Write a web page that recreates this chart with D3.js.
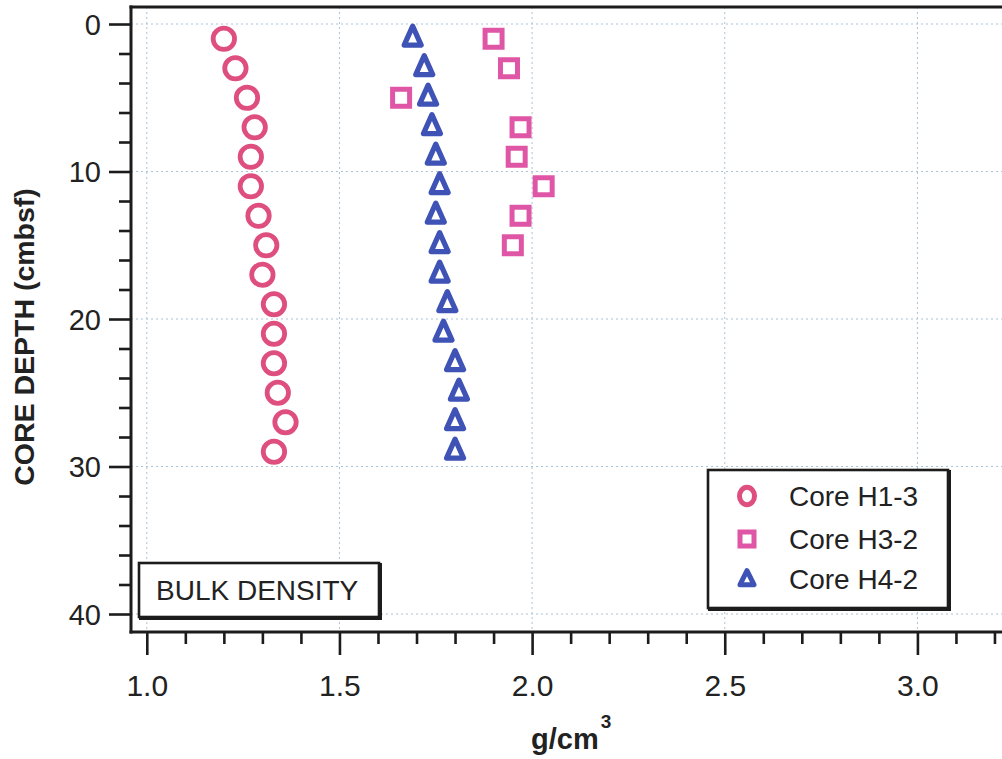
<!DOCTYPE html>
<html>
<head>
<meta charset="utf-8">
<script src="https://cdn.jsdelivr.net/npm/d3@7"></script>
<style>
  html, body { margin: 0; padding: 0; background: #ffffff; }
  svg { display: block; }
  text { font-family: "Liberation Sans", Arial, Helvetica, sans-serif; fill: #222; }
</style>
</head>
<body>
<svg id="chart" width="1002" height="759"></svg>
<script>
// ---- data ----
const depthsH13 = [1, 3, 5, 7, 9, 11, 13, 15, 17, 19, 21, 23, 25, 27, 29];
const densityH13 = [1.20, 1.23, 1.26, 1.28, 1.27, 1.27, 1.29, 1.31, 1.30, 1.33, 1.33, 1.33, 1.34, 1.36, 1.33];

const depthsH32 = [1, 3, 5, 7, 9, 11, 13, 15];
const densityH32 = [1.90, 1.94, 1.66, 1.97, 1.96, 2.03, 1.97, 1.95];

const depthsH42 = [1, 3, 5, 7, 9, 11, 13, 15, 17, 19, 21, 23, 25, 27, 29];
const densityH42 = [1.69, 1.72, 1.73, 1.74, 1.75, 1.76, 1.75, 1.76, 1.76, 1.78, 1.77, 1.80, 1.81, 1.80, 1.80];

const seriesNames = ["Core H1-3", "Core H3-2", "Core H4-2"];
const xMajorTicks = [1.0, 1.5, 2.0, 2.5, 3.0];
const xTickLabels = ["1.0", "1.5", "2.0", "2.5", "3.0"];
const yMajorTicks = [0, 10, 20, 30, 40];
const yTickLabels = ["0", "10", "20", "30", "40"];
const xTitle = "g/cm";
const xTitleSup = "3";
const yTitle = "CORE DEPTH (cmbsf)";
const boxLabel = "BULK DENSITY";

// ---- layout ----
(function () {
const svg = d3.select("#chart");
const pLeft = 131, pTop = 7, pBottom = 632, pRight = 1033;
const x = d3.scaleLinear().domain([0.959, 3.3]).range([pLeft, pRight]);
const y = d3.scaleLinear().domain([-1.153, 41.22]).range([pTop, pBottom]);

const colH13 = "#de4f80";
const colH32 = "#e056a6";
const colH42 = "#3f52b6";
const ink = "#1c1c1c";
const gridCol = "#a9c3d8";

svg.append("defs").append("clipPath").attr("id", "plotclip")
  .append("rect").attr("x", pLeft).attr("y", pTop).attr("width", 1002 - pLeft).attr("height", pBottom - pTop);

// ---- grid ----
const grid = svg.append("g").attr("clip-path", "url(#plotclip)");
grid.selectAll("line.vg").data(xMajorTicks).join("line")
  .attr("x1", d => x(d)).attr("x2", d => x(d))
  .attr("y1", pTop).attr("y2", pBottom)
  .attr("stroke", gridCol).attr("stroke-width", 1).attr("stroke-dasharray", "2,3");
grid.selectAll("line.hg").data(yMajorTicks).join("line")
  .attr("x1", pLeft).attr("x2", 1002)
  .attr("y1", d => y(d)).attr("y2", d => y(d))
  .attr("stroke", gridCol).attr("stroke-width", 1).attr("stroke-dasharray", "2,3");

// ---- axes ----
const yMinor = d3.range(0, 41, 2).filter(v => v % 10 !== 0);
const xMinor = d3.range(10, 33, 1).map(v => v / 10).filter(v => Math.round(v * 10) % 5 !== 0);

function styleAxis(size) {
  return function (g) {
    g.select(".domain").remove();
    g.selectAll(".tick line").attr("stroke", ink).attr("stroke-width", 2.6);
    g.selectAll(".tick text").attr("fill", "#2a2a2a").style("font-size", size + "px")
      .style("font-family", "'Liberation Sans', Arial, sans-serif");
  };
}

svg.append("g").attr("transform", `translate(${pLeft},0)`)
  .call(d3.axisLeft(y).tickValues(yMinor).tickSize(12).tickFormat(""))
  .call(styleAxis(29));
svg.append("g").attr("transform", `translate(${pLeft},0)`)
  .call(d3.axisLeft(y).tickValues(yMajorTicks).tickSize(22).tickPadding(8)
        .tickFormat((d, i) => yTickLabels[i]))
  .call(styleAxis(29))
  .call(g => g.selectAll(".tick text").attr("dy", "0.36em"));

svg.append("g").attr("transform", `translate(0,${pBottom})`)
  .call(d3.axisBottom(x).tickValues(xMinor).tickSize(12).tickFormat(""))
  .call(styleAxis(30));
svg.append("g").attr("transform", `translate(0,${pBottom})`)
  .call(d3.axisBottom(x).tickValues(xMajorTicks).tickSize(23).tickPadding(20)
        .tickFormat((d, i) => xTickLabels[i]))
  .call(styleAxis(30));

// frame lines
svg.append("line").attr("x1", pLeft).attr("x2", pLeft).attr("y1", pTop - 1.5).attr("y2", pBottom + 1.5)
  .attr("stroke", ink).attr("stroke-width", 3);
svg.append("line").attr("x1", pLeft - 1.5).attr("x2", 1002).attr("y1", pBottom).attr("y2", pBottom)
  .attr("stroke", ink).attr("stroke-width", 3);
svg.append("line").attr("x1", pLeft - 1.5).attr("x2", 1002).attr("y1", pTop).attr("y2", pTop)
  .attr("stroke", ink).attr("stroke-width", 3);

// ---- titles ----
svg.append("text")
  .attr("transform", `translate(34,337) rotate(-90)`)
  .attr("text-anchor", "middle")
  .style("font-size", "28.5px").style("font-weight", "bold")
  .text(yTitle);

const xt = svg.append("text")
  .attr("x", 531).attr("y", 749)
  .attr("text-anchor", "start")
  .style("font-size", "29px").style("font-weight", "bold");
xt.append("tspan").text(xTitle);
xt.append("tspan").attr("dx", 2).attr("dy", -21).style("font-size", "19px").text(xTitleSup);

// ---- markers ----
const plot = svg.append("g").attr("clip-path", "url(#plotclip)");
const triPath = (w, h) => `M0,${-2 * h / 3}L${w},${h / 3}L${-w},${h / 3}Z`;

plot.selectAll("circle.h13").data(depthsH13).join("circle")
  .attr("cx", (d, i) => x(densityH13[i])).attr("cy", d => y(d))
  .attr("r", 10.7).attr("fill", "none")
  .attr("stroke", colH13).attr("stroke-width", 4.8);

plot.selectAll("rect.h32").data(depthsH32).join("rect")
  .attr("x", (d, i) => x(densityH32[i]) - 8.5).attr("y", d => y(d) - 8.5)
  .attr("width", 17).attr("height", 17).attr("fill", "none")
  .attr("stroke", colH32).attr("stroke-width", 5);

plot.selectAll("path.h42").data(depthsH42).join("path")
  .attr("transform", (d, i) => `translate(${x(densityH42[i])},${y(d)})`)
  .attr("d", triPath(8.5, 19)).attr("fill", "none")
  .attr("stroke", colH42).attr("stroke-width", 5.2).attr("stroke-linejoin", "round");

// ---- legend ----
function drawBox(x0, y0, w, h) {
  svg.append("rect").attr("x", x0 + 1.5).attr("y", y0 + 1.5).attr("width", w).attr("height", h)
    .attr("fill", "none").attr("stroke", ink).attr("stroke-width", 3);
  svg.append("rect").attr("x", x0).attr("y", y0).attr("width", w).attr("height", h)
    .attr("fill", "#fff").attr("stroke", ink).attr("stroke-width", 2.6);
}

drawBox(708, 470, 240, 138);
const legRows = [506, 549, 589];
const legSymX = 747;
const lg = svg.append("g");
lg.append("ellipse").attr("cx", legSymX).attr("cy", legRows[0] - 10).attr("rx", 7.5).attr("ry", 8.8)
  .attr("fill", "none").attr("stroke", colH13).attr("stroke-width", 5);
lg.append("rect").attr("x", legSymX - 7).attr("y", legRows[1] - 17).attr("width", 14).attr("height", 14)
  .attr("fill", "none").attr("stroke", colH32).attr("stroke-width", 5);
lg.append("path").attr("transform", `translate(${legSymX},${legRows[2] - 9})`)
  .attr("d", triPath(7, 14)).attr("fill", "none")
  .attr("stroke", colH42).attr("stroke-width", 5).attr("stroke-linejoin", "round");
lg.selectAll("text").data(seriesNames).join("text")
  .attr("x", 789).attr("y", (d, i) => legRows[i])
  .style("font-size", "28px").attr("fill", "#2a2a2a")
  .text(d => d);

drawBox(139, 563, 240, 54);
svg.append("text").attr("x", 156).attr("y", 600)
  .style("font-size", "28px").attr("fill", "#2a2a2a")
  .text(boxLabel);
})();
</script>
</body>
</html>
